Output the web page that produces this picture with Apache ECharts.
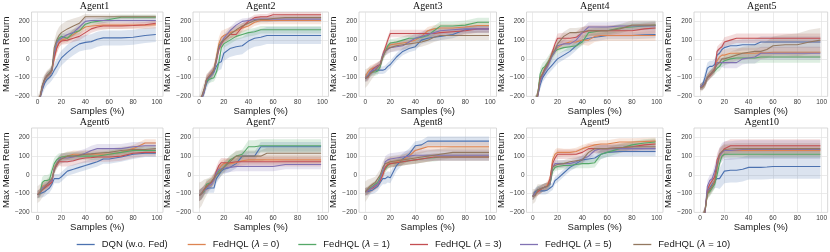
<!DOCTYPE html>
<html><head><meta charset="utf-8">
<script src="https://cdn.jsdelivr.net/npm/echarts@6/dist/echarts.min.js"></script>
<style>html,body{margin:0;padding:0;background:#fff}#c{width:830px;height:252px}</style>
</head><body><div id="c"></div><script>
// ---------- DATA ----------
const X = [0,2,4,6,8,10,12,14,16,18,20,25,30,35,40,45,50,55,60,70,80,90,99];
const seriesNames = ['DQN (w.o. Fed)','FedHQL (λ = 0)','FedHQL (λ = 1)','FedHQL (λ = 3)','FedHQL (λ = 5)','FedHQL (λ = 10)'];
const agentTitles = ['Agent1','Agent2','Agent3','Agent4','Agent5','Agent6','Agent7','Agent8','Agent9','Agent10'];
const xTicks = [0,20,40,60,80,100];
const yTicks = [-200,-100,0,100,200];

// means: [DQN, λ0, λ1, λ3, λ5, λ10]
const agent1Mean = [
 [-240,-215,-165,-130,-110,-100,-85,-60,-40,-15,5,35,60,80,88,92,105,112,112,112,115,125,130],
 [-240,-210,-150,-110,-90,-80,-65,0,60,85,100,110,130,150,170,175,178,180,180,180,180,180,182],
 [-240,-210,-150,-110,-90,-75,-60,30,90,110,120,110,140,150,185,195,200,205,210,222,222,222,222],
 [-240,-210,-150,-110,-90,-80,-60,10,55,85,95,100,110,120,140,160,170,175,175,175,178,182,190],
 [-240,-210,-150,-110,-90,-80,-60,30,85,100,110,130,140,170,200,205,205,205,205,205,205,205,205],
 [-240,-200,-140,-110,-90,-80,-60,60,100,125,140,160,175,190,225,225,225,225,225,225,225,225,225]];
const agent2Mean = [
 [-240,-220,-180,-130,-100,-85,-70,-40,-20,-15,30,55,65,70,95,110,115,125,125,125,125,125,125],
 [-240,-210,-170,-110,-90,-75,-55,10,80,115,125,140,150,165,175,195,205,205,205,205,205,205,205],
 [-240,-210,-170,-120,-110,-105,-100,-70,-20,60,80,100,120,130,140,145,155,155,155,155,155,155,155],
 [-240,-210,-170,-110,-95,-80,-60,-10,50,80,100,130,130,170,200,220,225,225,235,235,235,235,235],
 [-240,-210,-170,-110,-95,-80,-60,0,60,85,110,150,180,200,205,210,212,212,212,212,212,212,212],
 [-240,-200,-160,-110,-95,-80,-60,0,70,90,100,130,155,175,190,205,210,210,215,220,220,220,220]];
const agent3Mean = [
 [-105,-95,-75,-65,-60,-60,-60,-60,-55,-40,-30,10,40,55,65,100,110,115,120,130,155,160,160],
 [-100,-70,-55,-50,-45,-40,-30,20,40,60,75,80,85,90,100,120,150,160,165,165,170,178,178],
 [-100,-90,-75,-70,-70,-65,-40,10,40,70,85,90,100,110,110,115,125,150,175,175,180,195,195],
 [-100,-100,-75,-55,-45,-35,-30,20,60,100,135,135,135,135,135,135,135,135,140,145,150,160,160],
 [-100,-90,-70,-60,-50,-40,-30,20,40,50,60,65,70,90,110,120,130,140,150,155,160,160,160],
 [-105,-95,-80,-70,-60,-45,-30,10,40,55,60,70,75,80,85,90,100,115,125,125,125,125,125]];
const agent4Mean = [
 [-240,-230,-200,-140,-100,-80,-60,-45,-30,-15,0,20,40,70,100,110,115,120,125,125,125,128,130],
 [-240,-230,-190,-100,-80,-50,-30,0,30,45,60,80,90,90,100,100,120,125,125,125,125,125,125],
 [-240,-230,-190,-80,-50,-40,-20,0,20,40,50,60,65,70,90,140,145,150,150,165,170,175,180],
 [-240,-230,-200,-110,-80,-50,-30,0,40,80,110,110,110,115,140,150,150,150,150,150,150,160,165],
 [-240,-230,-200,-120,-90,-60,-40,-10,20,40,70,80,80,100,140,170,170,170,170,175,175,175,175],
 [-240,-230,-190,-100,-80,-50,-30,0,30,50,80,120,140,140,145,150,150,150,150,160,180,180,180]];
const agent5Mean = [
 [-150,-140,-100,-50,-40,-40,-30,20,30,50,60,70,70,75,75,75,90,90,90,90,90,90,90],
 [-150,-145,-130,-100,-80,-70,-50,-10,10,20,20,30,30,30,30,30,32,33,35,35,35,35,35],
 [-150,-145,-130,-100,-85,-75,-65,-50,-40,-20,-10,0,5,5,5,5,10,10,10,10,10,10,10],
 [-150,-145,-130,-100,-90,-75,-60,40,55,65,90,100,110,110,110,110,110,110,110,110,110,110,110],
 [-150,-145,-130,-100,-85,-70,-55,-20,-20,-20,-20,-20,-20,0,5,10,30,30,30,30,30,30,30],
 [-155,-150,-135,-100,-85,-70,-55,-30,-20,0,0,10,20,30,35,40,40,50,70,75,75,90,100]];
const agent6Mean = [
 [-105,-100,-95,-90,-80,-70,-50,-20,-20,-20,-10,20,30,40,50,60,70,85,85,95,110,115,115],
 [-105,-90,-60,-55,-50,-45,-30,40,60,80,95,100,110,110,110,110,110,110,110,120,140,170,170],
 [-105,-100,-40,-30,-30,-25,20,60,80,90,95,100,100,100,100,100,100,105,110,120,130,130,130],
 [-105,-95,-80,-70,-60,-50,-40,30,50,70,70,70,75,85,90,92,95,95,95,100,115,120,120],
 [-105,-95,-70,-60,-50,-40,-30,30,60,80,90,90,95,105,115,130,140,140,140,140,150,155,155],
 [-105,-95,-80,-65,-50,-35,-20,20,60,75,85,100,100,105,110,112,115,118,120,130,135,135,140]];
const agent7Mean = [
 [-110,-100,-80,-75,-70,-70,-70,-20,0,20,30,40,60,100,100,100,150,150,150,150,150,150,150],
 [-110,-100,-80,-60,-50,-40,-20,0,30,50,60,60,65,75,80,80,80,80,80,80,80,80,80],
 [-110,-100,-90,-50,-45,-40,-20,0,20,30,40,80,100,110,150,150,155,155,155,155,155,155,155],
 [-110,-100,-80,-60,-50,-40,-20,20,50,65,65,65,70,70,70,70,70,70,70,70,70,70,70],
 [-110,-100,-85,-70,-60,-50,-30,10,30,32,35,40,45,45,45,45,45,45,45,55,55,55,55],
 [-110,-100,-80,-65,-50,-35,-20,0,10,25,40,70,100,100,100,100,100,115,115,115,115,115,115]];
const agent8Mean = [
 [-90,-90,-85,-80,-70,-60,-40,-20,-20,-10,-15,50,85,110,155,160,180,180,180,180,180,180,180],
 [-90,-85,-70,-60,-55,-50,-30,0,40,60,70,70,80,100,130,140,150,150,150,150,150,150,150],
 [-90,-80,-70,-60,-50,-40,-10,20,30,50,60,65,70,75,80,85,90,92,95,95,95,95,95],
 [-90,-85,-75,-70,-60,-50,-30,0,40,55,60,65,70,75,80,85,90,95,95,95,95,95,95],
 [-90,-85,-75,-65,-55,-50,-20,20,70,80,85,90,95,100,105,105,105,105,105,105,105,105,105],
 [-90,-75,-60,-50,-40,-20,0,40,60,65,70,75,80,85,90,95,100,105,110,120,120,120,120]];
const agent9Mean = [
 [-115,-90,-80,-85,-85,-85,-80,-70,-60,-30,-20,10,40,60,80,85,90,110,120,125,125,125,125],
 [-115,-100,-90,-80,-70,-65,-50,-20,80,110,120,120,120,125,140,150,160,165,165,175,175,178,180],
 [-115,-100,-80,-75,-70,-65,-60,-50,20,40,45,50,50,55,60,60,65,110,120,140,160,170,175],
 [-115,-100,-90,-80,-70,-65,-60,-20,60,90,110,110,110,110,120,140,140,140,140,145,150,160,165],
 [-115,-100,-80,-75,-70,-65,-60,-50,40,60,60,60,60,70,85,100,130,140,140,140,140,140,140],
 [-115,-110,-80,-75,-70,-65,-60,-40,40,50,55,60,70,75,80,120,140,140,140,145,150,150,150]];
const agent10Mean = [
 [-240,-220,-200,-90,-70,-50,-30,-20,-20,0,20,25,25,30,40,40,40,42,45,45,45,45,45],
 [-240,-220,-200,-100,-80,-60,-30,40,100,120,130,130,130,130,130,130,130,130,130,130,130,130,130],
 [-240,-220,-200,-100,-90,-70,-50,0,60,100,110,110,110,110,110,110,110,110,110,110,110,110,110],
 [-240,-220,-200,-80,-50,-30,-10,80,110,120,140,155,155,155,155,155,155,155,155,155,155,155,155],
 [-240,-220,-200,-60,-30,-20,20,60,100,120,130,130,133,135,135,135,135,135,135,135,135,135,135],
 [-240,-220,-190,-100,-80,-60,-40,40,110,125,135,138,140,140,140,140,140,140,140,140,140,140,140]];

// band half-widths (std) at X
const agent1Spread = [
 [10,15,25,30,30,30,30,35,40,40,40,40,40,40,40,40,40,40,40,40,40,40,40],
 [10,15,20,20,20,20,20,25,30,25,20,20,25,25,20,20,20,20,20,20,20,20,20],
 [10,15,20,20,20,20,20,25,25,20,20,20,20,20,20,15,15,15,15,12,12,12,12],
 [10,15,20,20,20,20,20,25,30,25,20,20,20,20,20,20,20,20,15,15,15,15,15],
 [10,15,20,20,20,20,20,25,25,20,20,20,20,20,20,15,15,15,15,15,15,15,15],
 [15,30,35,30,30,30,30,40,45,45,45,45,40,35,15,12,12,12,12,12,12,12,12]];
const agent2Spread = [
 [10,15,25,30,30,30,30,35,40,40,40,45,45,45,45,45,45,45,45,45,45,45,45],
 [10,15,20,25,25,25,30,35,35,35,30,30,30,25,20,20,20,20,20,20,20,20,20],
 [10,15,20,20,20,20,20,25,25,25,20,20,20,20,20,20,20,20,20,20,20,20,20],
 [10,15,20,20,20,20,20,20,20,20,20,20,20,20,15,15,15,15,15,15,15,15,15],
 [10,15,20,20,20,20,20,20,20,20,20,20,20,15,15,15,15,15,15,15,15,15,15],
 [30,40,35,30,25,25,25,25,25,25,25,25,20,15,15,15,15,15,15,15,15,15,15]];
const agent3Spread = [
 [20,20,20,20,20,20,20,20,20,20,20,20,20,20,20,20,20,20,20,20,20,20,20],
 [20,20,20,20,20,20,20,20,20,20,15,15,15,15,15,20,20,20,20,20,20,20,20],
 [20,20,20,20,20,20,20,20,20,20,20,20,20,20,20,20,25,25,25,25,25,25,25],
 [20,20,20,20,20,20,20,20,20,20,20,20,20,20,20,20,20,20,20,20,20,20,20],
 [20,20,20,20,20,20,20,20,20,25,25,25,25,25,25,25,25,25,20,20,20,20,20],
 [50,45,40,30,25,25,25,25,25,25,25,25,25,25,25,25,25,25,25,25,25,25,25]];
const agent4Spread = [
 [20,20,20,25,25,25,25,25,25,25,25,25,25,25,20,20,20,20,20,20,20,20,20],
 [20,20,20,20,20,20,20,20,20,20,20,25,25,25,25,30,30,30,30,30,30,30,30],
 [20,20,20,30,30,30,30,30,30,30,25,20,20,20,20,20,20,20,20,20,20,20,20],
 [20,20,20,20,20,20,20,20,20,20,25,30,30,30,30,30,30,30,30,30,30,30,30],
 [20,20,20,20,20,20,20,20,20,20,20,20,20,20,25,25,25,25,25,25,25,25,25],
 [20,20,20,20,20,20,20,20,20,20,25,25,25,25,25,25,25,25,25,25,25,25,25]];
const agent5Spread = [
 [15,20,30,30,30,30,30,30,30,30,30,30,30,30,30,30,30,30,30,30,30,30,30],
 [15,20,20,20,20,20,20,25,25,25,30,30,30,30,30,30,30,30,30,30,30,30,30],
 [15,20,20,20,20,20,20,20,25,25,25,25,30,30,30,30,30,30,30,30,30,30,30],
 [15,20,20,20,20,20,20,25,25,25,25,25,25,25,25,25,25,25,25,25,25,25,25],
 [15,20,20,20,20,20,20,25,25,25,30,30,30,30,30,35,35,35,35,35,35,35,35],
 [20,20,20,20,20,20,20,25,25,25,30,30,30,35,35,40,40,45,50,55,60,65,65]];
const agent6Spread = [
 [20,20,25,25,25,25,25,25,25,25,25,25,25,25,25,25,25,25,25,25,25,20,20],
 [20,20,20,20,20,20,20,20,20,20,20,20,20,20,20,20,20,20,20,20,20,20,20],
 [20,25,30,30,30,30,30,30,25,25,20,20,20,20,20,20,20,20,20,20,20,20,20],
 [20,20,20,20,20,20,20,20,20,20,25,25,25,25,25,25,25,25,25,25,25,20,20],
 [20,20,20,20,20,20,20,20,25,25,25,25,25,25,25,25,25,25,25,25,25,20,20],
 [45,45,40,35,30,25,25,25,25,25,25,25,25,20,20,20,20,20,20,20,20,20,20]];
const agent7Spread = [
 [30,30,25,25,25,25,25,25,25,25,25,25,25,25,25,25,25,25,25,25,25,25,25],
 [30,30,25,25,25,25,25,25,25,25,25,25,25,25,25,25,25,25,25,25,25,25,25],
 [30,30,25,25,25,25,25,25,25,25,25,25,25,25,35,35,35,35,35,35,35,35,35],
 [30,30,25,25,25,25,25,25,25,25,25,25,25,25,25,25,25,25,25,25,25,25,25],
 [30,30,25,25,25,25,25,25,25,25,25,25,25,25,25,25,25,25,25,25,25,25,25],
 [70,65,55,45,35,30,30,30,30,30,30,30,30,30,30,30,30,30,30,30,30,30,30]];
const agent8Spread = [
 [20,20,20,20,25,25,25,30,30,30,30,30,30,30,25,25,25,25,25,25,25,25,25],
 [20,20,20,20,20,20,20,25,25,25,25,25,25,25,25,25,25,25,25,25,25,25,25],
 [20,20,20,20,20,20,20,20,20,20,20,20,20,20,20,20,20,20,20,20,20,20,20],
 [20,20,20,20,20,20,20,20,20,20,20,20,20,20,20,20,20,20,20,20,20,20,20],
 [20,20,20,20,20,20,20,30,30,30,30,30,30,30,30,30,30,30,30,30,30,30,30],
 [55,50,40,35,30,30,30,30,30,30,30,30,30,30,30,30,30,30,30,30,30,30,30]];
const agent9Spread = [
 [20,20,20,20,20,20,20,20,20,20,20,20,20,20,20,20,20,25,25,25,25,25,25],
 [20,20,20,20,20,20,20,20,25,25,25,20,20,20,20,20,20,20,20,20,20,20,20],
 [20,20,20,20,20,20,20,20,20,20,20,20,20,20,25,25,25,25,25,25,20,20,20],
 [20,20,20,20,20,20,20,20,25,25,25,25,25,25,25,25,25,25,25,25,25,25,25],
 [20,20,20,20,20,20,20,20,20,20,20,20,20,20,20,20,20,20,20,20,20,20,20],
 [40,35,30,25,20,20,20,20,20,20,20,20,20,20,20,20,20,20,20,20,20,20,20]];
const agent10Spread = [
 [20,20,20,30,30,35,40,50,55,60,65,65,65,65,65,65,65,65,65,65,65,65,65],
 [20,20,20,25,25,25,25,30,30,30,30,30,30,30,30,30,30,30,30,30,30,30,30],
 [20,20,20,25,25,25,25,25,25,20,20,20,20,20,20,20,20,20,20,20,20,20,20],
 [20,20,20,25,25,25,30,35,35,35,35,35,35,35,35,35,35,35,35,35,35,35,35],
 [20,20,20,30,30,30,35,40,45,50,50,50,50,50,50,50,50,50,50,50,50,50,50],
 [20,20,25,30,30,30,30,30,30,30,30,30,30,30,30,30,30,30,30,30,30,30,30]];

// ---------- LAYOUT / STYLE ----------
const means = [agent1Mean,agent2Mean,agent3Mean,agent4Mean,agent5Mean,agent6Mean,agent7Mean,agent8Mean,agent9Mean,agent10Mean];
const spreads = [agent1Spread,agent2Spread,agent3Spread,agent4Spread,agent5Spread,agent6Spread,agent7Spread,agent8Spread,agent9Spread,agent10Spread];
const colors = ['#4C72B0','#DD8452','#55A868','#C44E52','#8172B3','#937860'];
const colL = [26, 193, 359, 526.5, 694];
const colW = [137, 135.5, 137.5, 136.5, 135.5];
const rowT = [12, 128];
const gridH = 84.4;
const Y_MIN = -200, Y_MAX = 250;

function rgba(hex, a){
  const n = parseInt(hex.slice(1),16);
  return 'rgba('+((n>>16)&255)+','+((n>>8)&255)+','+(n&255)+','+a+')';
}
const minus = v => String(v).replace('-', '\u2212');

const grids=[], xAxes=[], yAxes=[], series=[], graphics=[];
for (let i=0;i<10;i++){
  const r = Math.floor(i/5), c = i%5;
  grids.push({left:colL[c], top:rowT[r], width:colW[c], height:gridH, show:true,
    borderColor:'#cfcfcf', borderWidth:0.8, backgroundColor:'#fff'});
  xAxes.push({type:'value', gridIndex:i, min:-5, max:105,
    axisLine:{show:false}, axisTick:{show:false, customValues:xTicks},
    axisLabel:{customValues:xTicks, fontSize:6.5, color:'#3a3a3a', margin:2, fontFamily:'Liberation Sans'},
    splitLine:{show:true, lineStyle:{color:'#e3e3e3', width:0.7}},
    name:'Samples (%)', nameLocation:'middle', nameGap:5,
    nameTextStyle:{fontSize:9.5, color:'#1a1a1a', fontFamily:'Liberation Sans', verticalAlign:'top'}});
  yAxes.push({type:'value', gridIndex:i, min:Y_MIN, max:Y_MAX,
    axisLine:{show:false}, axisTick:{show:false, customValues:yTicks},
    axisLabel:{customValues:yTicks, fontSize:6.5, color:'#3a3a3a', margin:2, fontFamily:'Liberation Sans', formatter:minus},
    splitLine:{show:true, lineStyle:{color:'#e3e3e3', width:0.7}},
    name:'Max Mean Return', nameLocation:'middle', nameGap:14,
    nameTextStyle:{fontSize:9.5, color:'#1a1a1a', fontFamily:'Liberation Sans'}});
  graphics.push({type:'text', x: colL[c] + colW[c]/2, y: rowT[r]-6,
    style:{text:agentTitles[i], font:'10px "Liberation Serif"', fill:'#111', textAlign:'center', textVerticalAlign:'middle'}});
  for (let s=0;s<6;s++){
    const mean = means[i][s], sp = spreads[i][s], col = colors[s];
    const clampY = v => Math.max(Y_MIN, Math.min(Y_MAX, v));
    series.push({type:'custom', xAxisIndex:i, yAxisIndex:i, silent:true, animation:false,
      data: X.map((x,k)=>[x, mean[k]-sp[k], mean[k]+sp[k]]),
      encode:{x:0, y:[1,2]},
      renderItem(params, api){
        if (params.dataIndex !== 0) return null;
        const up=[], lo=[];
        for (let k=0;k<X.length;k++){
          up.push(api.coord([X[k], clampY(mean[k]+sp[k])]));
          lo.push(api.coord([X[k], clampY(mean[k]-sp[k])]));
        }
        return {type:'polygon', shape:{points: up.concat(lo.reverse())}, style:{fill: rgba(col,0.2)}};
      }});
    series.push({type:'line', name:seriesNames[s], xAxisIndex:i, yAxisIndex:i,
      data: X.map((x,k)=>[x, mean[k]]), symbol:'none', showSymbol:false, silent:true, animation:false,
      clip:true, lineStyle:{width:1.1, color:col}, itemStyle:{color:col}});
  }
}

const legendLeft = [71.7, 182.7, 293.3, 405, 515, 628.3];
const legends = seriesNames.map((n,s)=>({
  data:[{name:n, icon:'rect', itemStyle:{color:colors[s]}}], left:legendLeft[s], top:234.5, itemWidth:18, itemHeight:1.3, itemGap:0,
  selectedMode:false,
  formatter: name => {
    const m = name.match(/^FedHQL \(λ = (\d+)\)$/);
    return m ? '{n|FedHQL (}{i|λ}{n| = '+m[1]+')}' : '{n|'+name+'}';
  },
  textStyle:{fontSize:9.5, color:'#1a1a1a', fontFamily:'Liberation Sans', padding:[0,0,0,2],
    rich:{n:{fontSize:9.5, fontFamily:'Liberation Sans', color:'#1a1a1a'},
          i:{fontSize:9.5, fontFamily:'DejaVu Sans', fontStyle:'italic', color:'#1a1a1a'}}}
}));

const chart = echarts.init(document.getElementById('c'), null, {renderer:'canvas'});
chart.setOption({animation:false, backgroundColor:'#fff', grid:grids, xAxis:xAxes, yAxis:yAxes,
  series:series, legend:legends, graphic:graphics});
</script></body></html>
